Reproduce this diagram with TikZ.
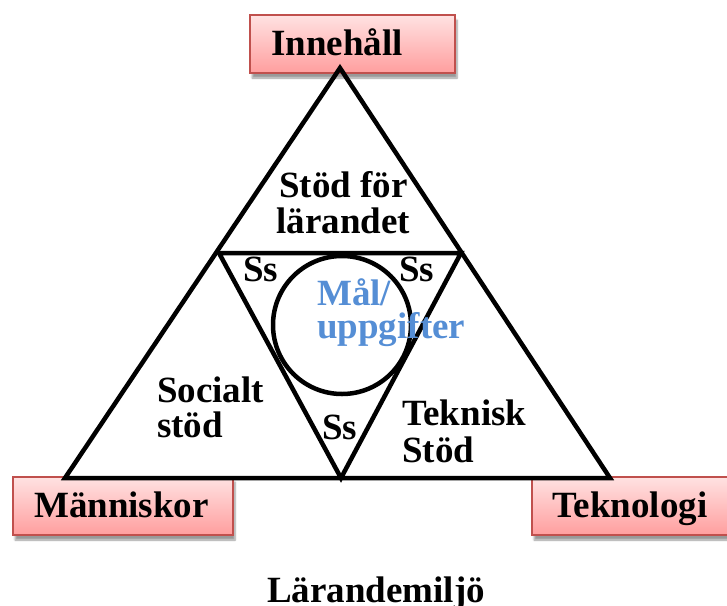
\documentclass[tikz,border=0pt]{standalone}
\usepackage{fontspec}
\setmainfont{Liberation Serif}
\usetikzlibrary{shadows.blur}
\definecolor{boxborder}{HTML}{C0504D}
\definecolor{boxtop}{HTML}{FFE2E2}
\definecolor{boxbot}{HTML}{FF9E9E}
\definecolor{goalblue}{HTML}{558ED5}
\begin{document}
\begin{tikzpicture}[x=1pt,y=-1pt,
  txt/.style={font=\fontsize{37}{36}\selectfont\bfseries, align=left, inner sep=0pt, anchor=base west},
  ctxt/.style={font=\fontsize{37}{36}\selectfont\bfseries, inner sep=0pt, anchor=base},
  pinkbox/.style={rectangle, draw=boxborder, line width=1.5pt, top color=boxtop, bottom color=boxbot,
    minimum height=58pt, inner sep=0pt,
    blur shadow={shadow xshift=2pt, shadow yshift=-5pt, shadow blur steps=6, shadow opacity=40}},
  edge/.style={line width=4.5pt, line join=miter, line cap=round}]
\useasboundingbox (0,0) rectangle (727,605);
% boxes
\node[pinkbox, minimum width=205pt] (innbox) at (352.5,44) {};
\node[pinkbox, minimum width=220pt] (manbox) at (123,506) {};
\node[pinkbox, minimum width=198pt] (tekbox) at (631,506) {};
\node[ctxt] (inn) at (337,55) {Innehåll};
\node[ctxt] (man) at (121.5,517) {Människor};
\node[ctxt] (tek) at (630,517) {Teknologi};
% triangles
\coordinate (A) at (340,68);
\coordinate (B) at (65,478);
\coordinate (C) at (610,478);
\coordinate (P) at (219,253);
\coordinate (Q) at (461,253);
\coordinate (R) at (341,478);
\draw[edge] (A) -- (B) -- (C) -- cycle;
\draw[edge] (P) -- (Q) -- (R) -- cycle;
\node[draw, circle, line width=4.5pt, minimum size=138pt, inner sep=0pt] (goal) at (342,325) {};
% labels
\node[ctxt, align=center] (stod) at (343.5,233) {Stöd för\\lärandet};
\node[txt] (ss1) at (243,281) {Ss};
\node[txt] (ss2) at (399,281) {Ss};
\node[txt] (ss3) at (322,439) {Ss};
\node[txt, text=goalblue, font=\fontsize{37}{33}\selectfont\bfseries] (mal) at (317,338) {Mål/\\uppgifter};
\node[txt, font=\fontsize{37}{35}\selectfont\bfseries] (soc) at (157,437) {Socialt\\stöd};
\node[txt, font=\fontsize{37}{37}\selectfont\bfseries] (tst) at (402,462) {Teknisk\\Stöd};
\node[ctxt] (lar) at (376,602) {Lärandemiljö};
\end{tikzpicture}
\end{document}
